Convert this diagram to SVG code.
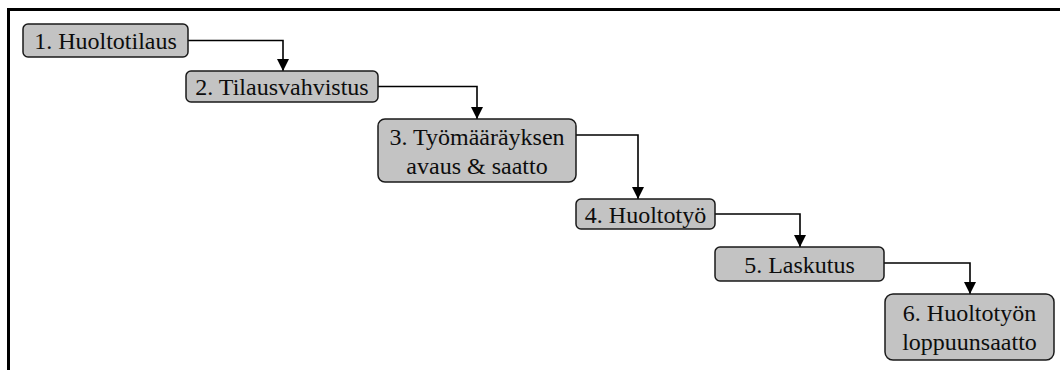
<svg xmlns="http://www.w3.org/2000/svg" width="1060" height="370" viewBox="0 0 1060 370">
  <style>
    .box { fill: #c3c3c3; stroke: #1a1a1a; stroke-width: 1.5; }
    .lbl { font-size: 24px; fill: #0d0d0d; text-anchor: middle; }
    .conn { fill: none; stroke: #000; stroke-width: 1.6; }
    .frame { fill: none; stroke: #000; stroke-width: 3; }
  </style>
  <defs>
    <marker id="arrow" markerWidth="12" markerHeight="12" refX="12" refY="6" orient="auto" markerUnits="userSpaceOnUse">
      <path d="M0,0 L12,6 L0,12 Z" fill="#000"/>
    </marker>
  </defs>
  <rect width="1060" height="370" fill="#fff"/>

  <!-- outer frame: top and left edges -->
  <path class="frame" d="M8.5,370 V9.5 H1060"/>

  <g id="connectors">
    <path class="conn" d="M188,40.5 H283 V71" marker-end="url(#arrow)"/>
    <path class="conn" d="M378,86.5 H477 V119" marker-end="url(#arrow)"/>
    <path class="conn" d="M576,135 H638 V199" marker-end="url(#arrow)"/>
    <path class="conn" d="M715,214 H800 V247" marker-end="url(#arrow)"/>
    <path class="conn" d="M884,263 H970 V294" marker-end="url(#arrow)"/>
  </g>

  <g font-family="'Liberation Serif', Tinos, 'Times New Roman', 'DejaVu Serif', serif">
    <g id="node1">
      <rect class="box" x="23" y="24" width="165" height="33" rx="5"/>
      <text class="lbl" x="105.5" y="49">1. Huoltotilaus</text>
    </g>
    <g id="node2">
      <rect class="box" x="186" y="71" width="192" height="31" rx="5"/>
      <text class="lbl" x="282" y="95">2. Tilausvahvistus</text>
    </g>
    <g id="node3">
      <rect class="box" x="378" y="119" width="198" height="63" rx="7"/>
      <text class="lbl" x="477" y="145">3. Työmääräyksen</text>
      <text class="lbl" x="477" y="174">avaus &amp; saatto</text>
    </g>
    <g id="node4">
      <rect class="box" x="576" y="199" width="139" height="30" rx="5"/>
      <text class="lbl" x="645.5" y="222.5">4. Huoltotyö</text>
    </g>
    <g id="node5">
      <rect class="box" x="715" y="247" width="169" height="34" rx="5"/>
      <text class="lbl" x="799.5" y="272.5">5. Laskutus</text>
    </g>
    <g id="node6">
      <rect class="box" x="885" y="294" width="169" height="66" rx="8"/>
      <text class="lbl" x="969.5" y="320.5">6. Huoltotyön</text>
      <text class="lbl" x="969.5" y="349.5">loppuunsaatto</text>
    </g>
  </g>
</svg>
